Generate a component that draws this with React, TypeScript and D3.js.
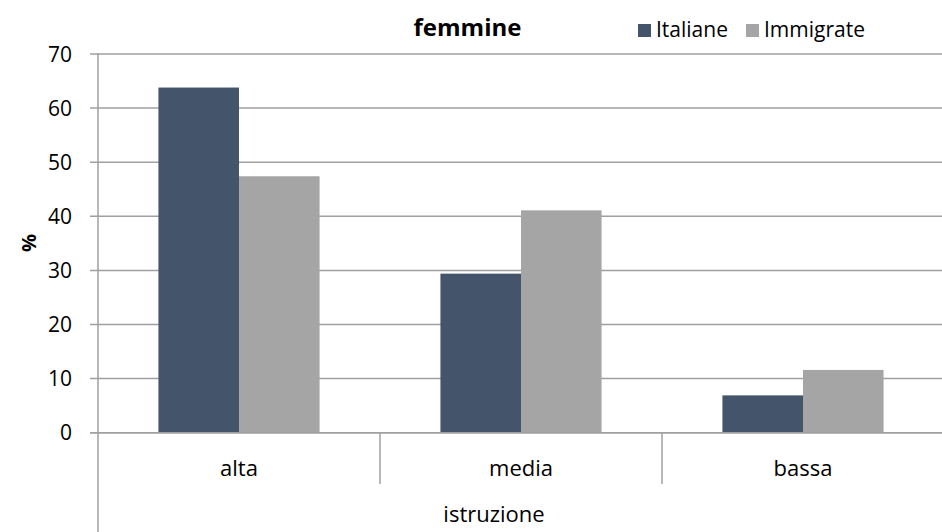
import React from "react";
import * as d3 from "d3";

const categories = ["alta", "media", "bassa"];
const seriesNames = ["Italiane", "Immigrate"];
const italiane = [63.8, 29.4, 6.9];
const immigrate = [47.4, 41.1, 11.6];
const yTicks = [0, 10, 20, 30, 40, 50, 60, 70];
const colors = ["#44546a", "#a5a5a5"];

const W = 942;
const H = 532;
const FONT = "'Open Sans', sans-serif";

export default function App() {
  const left = 98;
  const right = 944;
  const top = 54;
  const bottom = 432.7;
  const x = d3.scaleBand<string>().domain(categories).range([left, right]).paddingInner(0).paddingOuter(0);
  const y = d3.scaleLinear().domain([0, 70]).range([bottom, top]);
  const bw = x.bandwidth();
  const barW = bw / 3.5;
  const series = [italiane, immigrate];

  return (
    <svg width={W} height={H} style={{ position: "absolute", left: 0, top: 0, background: "#fff" }}>
      {yTicks.map((t) => (
        <g key={t}>
          <line x1={90} x2={W} y1={y(t)} y2={y(t)} stroke="#a0a0a0" strokeWidth={1.5} />
          <text x={72} y={y(t) + 7.5} textAnchor="end" fontFamily={FONT} fontSize={21} fill="#000">
            {t}
          </text>
        </g>
      ))}
      {categories.map((c, i) =>
        series.map((s, j) => {
          const xs = (x(c) as number) + (bw - 2 * barW) / 2 + j * barW;
          return (
            <rect
              key={c + j}
              x={xs}
              y={y(s[i])}
              width={barW}
              height={y(0) - y(s[i])}
              fill={colors[j]}
            />
          );
        })
      )}
      <line x1={left} x2={left} y1={top - 1} y2={H} stroke="#a0a0a0" strokeWidth={1.5} />
      <line x1={90} x2={W} y1={y(0)} y2={y(0)} stroke="#a0a0a0" strokeWidth={1.5} />
      {categories.slice(1).map((c) => (
        <line key={c} x1={x(c)} x2={x(c)} y1={y(0)} y2={484} stroke="#a0a0a0" strokeWidth={1.5} />
      ))}
      {categories.map((c) => (
        <text
          key={c}
          x={(x(c) as number) + bw / 2}
          y={476}
          textAnchor="middle"
          fontFamily={FONT}
          fontSize={22}
          fill="#000"
        >
          {c}
        </text>
      ))}
      <text x={494} y={522} textAnchor="middle" fontFamily={FONT} fontSize={22} fill="#000">
        istruzione
      </text>
      <text
        transform={`translate(36, ${243}) rotate(-90)`}
        textAnchor="middle"
        fontFamily={FONT}
        fontSize={20}
        fontWeight="bold"
        fill="#000"
      >
        %
      </text>
      <text x={467.5} y={36} textAnchor="middle" fontFamily={FONT} fontSize={24} fontWeight="bold" fill="#000">
        femmine
      </text>
      {seriesNames.map((n, j) => {
        const lx = [638, 746][j];
        return (
          <g key={n}>
            <rect x={lx} y={24} width={13} height={13} fill={colors[j]} />
            <text x={lx + 18} y={37} fontFamily={FONT} fontSize={21} fill="#000">
              {n}
            </text>
          </g>
        );
      })}
    </svg>
  );
}
